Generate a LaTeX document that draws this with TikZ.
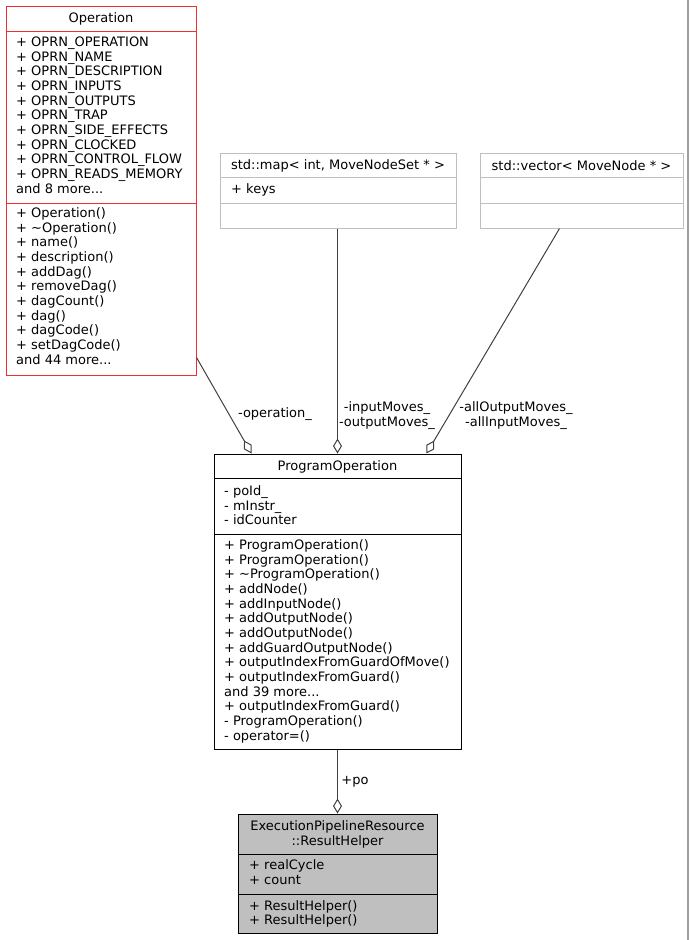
\documentclass[tikz,border=0pt]{standalone}
\usepackage{fontspec}
\setmainfont{DejaVu Sans}
\usetikzlibrary{arrows.meta}

\definecolor{oprnred}{HTML}{F03030}
\definecolor{stdgray}{HTML}{BFBFBF}
\definecolor{edgegray}{HTML}{404040}
\newcommand{\umlfont}{\fontsize{13}{14.67}\selectfont}
\newcommand{\andmore}[1]{and #1 more...}

\begin{document}
\begin{tikzpicture}[x=1pt, y=-1pt,
		classbox/.style = {draw, line width=1pt, inner sep=0pt},
		member/.style = {anchor=west, inner sep=0pt, text height=10pt, text depth=1pt, font=\umlfont},
		title/.style = {inner sep=0pt, align=center, font=\umlfont},
		aggr/.style = {draw=edgegray, line width=1pt, {Diamond[open, length=15pt, width=9pt, fill=white]}-}]

				\useasboundingbox (0,0) rectangle (689,940);
				\draw[gray!75, line width=1.5pt] (688,0) -- (688,940);

				% class boxes
				\node[classbox, draw=oprnred, minimum width=190pt, minimum height=369pt] (operation) at (101,190.5) {};
				\node[classbox, draw=stdgray, minimum width=236pt, minimum height=75pt] (map) at (338,190.5) {};
				\node[classbox, draw=stdgray, minimum width=203pt, minimum height=75pt] (vector) at (581.5,190.5) {};
				\node[classbox, minimum width=247pt, minimum height=295pt] (progop) at (337.5,601.5) {};
				\node[classbox, fill=stdgray, minimum width=199pt, minimum height=119pt] (helper) at (337.5,873.5) {};

				\foreach \sep in {31, 203}
				{
					\draw[oprnred, line width=1pt] (operation.west |- 0,\sep) -- (operation.east |- 0,\sep);
				}
				\foreach \sep in {177, 203}
				{
					\draw[stdgray, line width=1pt] (map.west |- 0,\sep) -- (map.east |- 0,\sep);
					\draw[stdgray, line width=1pt] (vector.west |- 0,\sep) -- (vector.east |- 0,\sep);
				}
				\foreach \sep in {478, 534}
				{
					\draw[line width=1pt] (progop.west |- 0,\sep) -- (progop.east |- 0,\sep);
				}
				\foreach \sep in {854, 894}
				{
					\draw[line width=1pt] (helper.west |- 0,\sep) -- (helper.east |- 0,\sep);
				}

				% titles
				\node[title] (operationtitle) at (101,18.5) {Operation};
				\node[title] (maptitle) at (338,165.5) {std::map< int, MoveNodeSet * >};
				\node[title] (vectortitle) at (581.5,165.5) {std::vector< MoveNode * >};
				\node[title] (progoptitle) at (337.5,466.5) {ProgramOperation};
				\node[title] (helpertitle) at (337.5,834.5) {ExecutionPipelineResource\\::ResultHelper};

				% members
				\foreach \txt [count=\i] in {+ OPRN\_OPERATION, + OPRN\_NAME, + OPRN\_DESCRIPTION,
					+ OPRN\_INPUTS, + OPRN\_OUTPUTS, + OPRN\_TRAP, + OPRN\_SIDE\_EFFECTS, + OPRN\_CLOCKED,
					+ OPRN\_CONTROL\_FLOW, + OPRN\_READS\_MEMORY, \andmore{8}}
				{
					\node[member] (oattr\i) at (16,42+14.67*\i-14.67) {\txt};
				}
				\foreach \txt [count=\i] in {+ Operation(), + \textasciitilde Operation(), + name(),
					+ description(), + addDag(), + removeDag(), + dagCount(), + dag(), + dagCode(),
					+ setDagCode(), \andmore{44}}
				{
					\node[member] (ometh\i) at (16,213+14.67*\i-14.67) {\txt};
				}
				\node[member] (mapattr) at (231,189) {+ keys};

				\foreach \txt [count=\i] in {- poId\_, - mInstr\_, - idCounter}
				{
					\node[member] (pattr\i) at (224,491+14.67*\i-14.67) {\txt};
				}
				\foreach \txt [count=\i] in {+ ProgramOperation(), + ProgramOperation(),
					+ \textasciitilde ProgramOperation(), + addNode(), + addInputNode(), + addOutputNode(),
					+ addOutputNode(), + addGuardOutputNode(), + outputIndexFromGuardOfMove(),
					+ outputIndexFromGuard(), \andmore{39}, + outputIndexFromGuard(),
					- ProgramOperation(), - operator=()}
				{
					\node[member] (pmeth\i) at (224,545+14.67*\i-14.67) {\txt};
				}

				\node[member] (hattr1) at (249,865) {+ realCycle};
				\node[member] (hattr2) at (249,880) {+ count};
				\node[member] (hmeth1) at (249,906) {+ ResultHelper()};
				\node[member] (hmeth2) at (249,920) {+ ResultHelper()};

				% aggregations
				\draw[aggr] ([xshift=38pt]progop.north west) -- ([yshift=18pt]operation.south east);
				\draw[aggr] (progop.north) -- (progop.north |- map.south);
				\draw[aggr] ([xshift=-35pt]progop.north east) -- ([xshift=80pt]vector.south west);
				\draw[aggr] (helper.north) -- (progop.south);

				\node[title] (oplabel) at (275,414) {-operation\_};
				\node[title] (maplabel) at (387,415.5) {-inputMoves\_\\-outputMoves\_};
				\node[title] (veclabel) at (516,415.5) {-allOutputMoves\_\\-allInputMoves\_};
				\node[title] (polabel) at (355,781.5) {+po};
		\end{tikzpicture}
\end{document}
